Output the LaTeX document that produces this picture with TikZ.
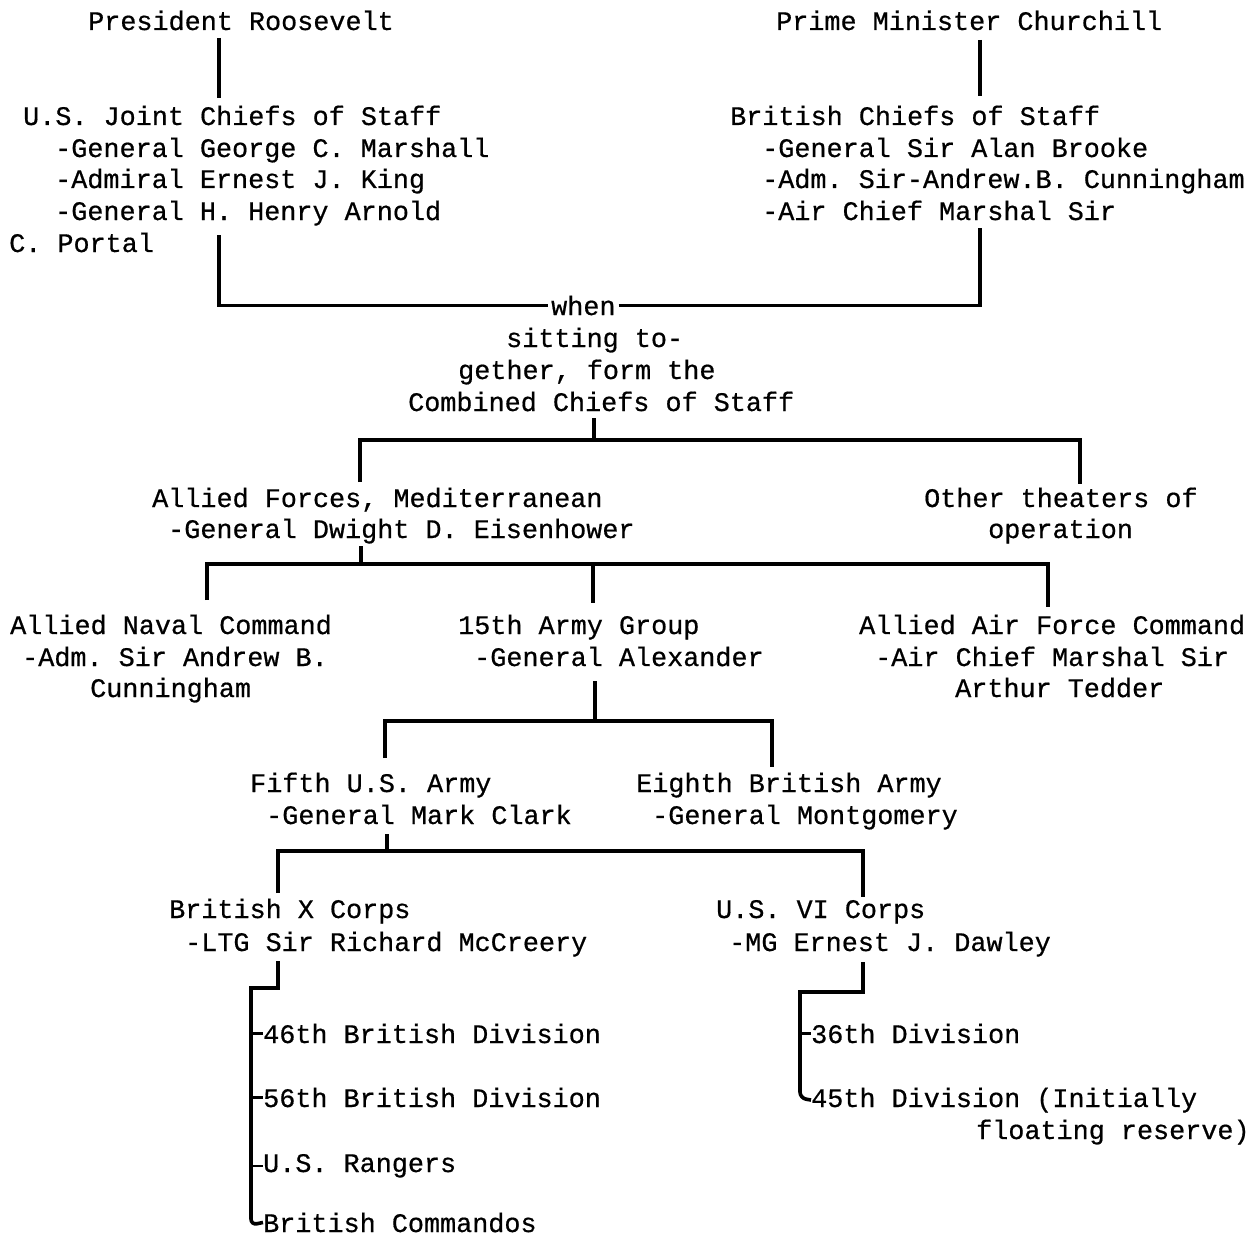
\documentclass[tikz,border=0pt]{standalone}
\usepackage{fontspec}
\setmonofont[FakeBold=0.6]{Liberation Mono}
\begin{document}
\begin{tikzpicture}[x=1pt,y=-1pt,
  txt/.style={anchor=base west,inner sep=0pt,font=\fontsize{26.8}{32}\selectfont\ttfamily},
  wire/.style={line width=3.6pt,line cap=butt,line join=miter},
  stub/.style={line width=2.6pt,line cap=butt}]
\useasboundingbox[fill=white] (0,0) rectangle (1251,1236);
% top
\node[txt] (pres) at (88,30) {President Roosevelt};
\node[txt] (pm) at (776,30) {Prime Minister Churchill};
\node[txt] (usj) at (23,125) {U.S. Joint Chiefs of Staff};
\node[txt] (usj1) at (55,157) {-General George C. Marshall};
\node[txt] (usj2) at (55,188) {-Admiral Ernest J. King};
\node[txt] (usj3) at (55,220) {-General H. Henry Arnold};
\node[txt] (portal) at (9,252) {C. Portal};
\node[txt] (bcs) at (730,125) {British Chiefs of Staff};
\node[txt] (bcs1) at (762,157) {-General Sir Alan Brooke};
\node[txt] (bcs2) at (762,188) {-Adm. Sir-Andrew.B. Cunningham};
\node[txt] (bcs3) at (762,220) {-Air Chief Marshal Sir};
% combined
\node[txt] (when) at (551,315) {when};
\node[txt] (sit) at (506,347) {sitting to-};
\node[txt] (geth) at (458,379) {gether, form the};
\node[txt] (ccs) at (408,411) {Combined Chiefs of Staff};
% theaters
\node[txt] (afm) at (152,507) {Allied Forces, Mediterranean};
\node[txt] (afm1) at (168,538) {-General Dwight D. Eisenhower};
\node[txt] (oth) at (924,507) {Other theaters of};
\node[txt] (oth1) at (988,538) {operation};
% commands
\node[txt] (anc) at (10,634) {Allied Naval Command};
\node[txt] (anc1) at (22,666) {-Adm. Sir Andrew B.};
\node[txt] (anc2) at (90,697) {Cunningham};
\node[txt] (ag) at (458,634) {15th Army Group};
\node[txt] (ag1) at (474,666) {-General Alexander};
\node[txt] (aaf) at (859,634) {Allied Air Force Command};
\node[txt] (aaf1) at (875,666) {-Air Chief Marshal Sir};
\node[txt] (aaf2) at (955,697) {Arthur Tedder};
% armies
\node[txt] (fifth) at (250,792) {Fifth U.S. Army};
\node[txt] (fifth1) at (266,824) {-General Mark Clark};
\node[txt] (eighth) at (636,792) {Eighth British Army};
\node[txt] (eighth1) at (652,824) {-General Montgomery};
% corps
\node[txt] (bx) at (169,918) {British X Corps};
\node[txt] (bx1) at (185,951) {-LTG Sir Richard McCreery};
\node[txt] (us6) at (716,918) {U.S. VI Corps};
\node[txt] (us61) at (729,951) {-MG Ernest J. Dawley};
% divisions
\node[txt] (d46) at (263,1043) {46th British Division};
\node[txt] (d56) at (263,1107) {56th British Division};
\node[txt] (rang) at (263,1172) {U.S. Rangers};
\node[txt] (comm) at (263,1232) {British Commandos};
\node[txt] (d36) at (811,1043) {36th Division};
\node[txt] (d45) at (811,1107) {45th Division (Initially};
\node[txt] (flo) at (976,1139) {floating reserve)};
% coordinates
\coordinate (rA) at (219,38);  \coordinate (rB) at (219,98);
\coordinate (cA) at (980,40);  \coordinate (cB) at (980,96);
\coordinate (uA) at (219,235); \coordinate (bA) at (980,228);
\coordinate (kA) at (594,418); \coordinate (kB) at (594,440);
\coordinate (kL) at (360,440); \coordinate (kLd) at (360,482);
\coordinate (kR) at (1080,440); \coordinate (kRd) at (1080,484);
\coordinate (eA) at (361,546); \coordinate (eB) at (361,564);
\coordinate (eL) at (207,564); \coordinate (eLd) at (207,600);
\coordinate (eM) at (593,564); \coordinate (eMd) at (593,603);
\coordinate (eR) at (1048,564); \coordinate (eRd) at (1048,607);
\coordinate (xA) at (595,681); \coordinate (xB) at (595,721);
\coordinate (xL) at (385,721); \coordinate (xLd) at (385,758);
\coordinate (xR) at (772,721); \coordinate (xRd) at (772,767);
\coordinate (lA) at (387,834); \coordinate (lB) at (387,851);
\coordinate (lL) at (278,851); \coordinate (lLd) at (278,893);
\coordinate (lR) at (863,851); \coordinate (lRd) at (863,897);
\coordinate (mA) at (278,961); \coordinate (mB) at (278,988);
\coordinate (mC) at (251,988); \coordinate (mD) at (251,1225);
\coordinate (mE) at (251,1210);
\coordinate (nA) at (863,962); \coordinate (nB) at (863,992);
\coordinate (nC) at (800,992); \coordinate (nD) at (800,1098);
\coordinate (nE) at (800,1083);
% connectors
\draw[wire] (rA) -- (rB);
\draw[wire] (cA) -- (cB);
\draw[wire] (uA) |- ([xshift=-3pt]when.west);
\draw[wire] ([xshift=3pt]when.east) -| (bA);
\draw[wire] (kA) -- (kB);
\draw[wire] (kLd) -- (kL) -- (kR) -- (kRd);
\draw[wire] (eA) -- (eB);
\draw[wire] (eLd) -- (eL) -- (eR) -- (eRd);
\draw[wire] (eM) -- (eMd);
\draw[wire] (xA) -- (xB);
\draw[wire] (xLd) -- (xL) -- (xR) -- (xRd);
\draw[wire] (lA) -- (lB);
\draw[wire] (lLd) -- (lL) -- (lR) -- (lRd);
\draw[wire] (mA) -- (mB) -- (mC) -- ([yshift=-2pt]mE);
\draw[wire,rounded corners=6pt] (mE) -- (mD) -- (comm.west);
\draw[stub] (mC |- d46.west) -- (d46.west);
\draw[stub] (mC |- d56.west) -- (d56.west);
\draw[stub] (mC |- rang.west) -- (rang.west);
\draw[wire] (nA) -- (nB) -- (nC) -- ([yshift=-2pt]nE);
\draw[wire,rounded corners=6pt] (nE) -- (nD) -- (d45.west);
\draw[stub] (nC |- d36.west) -- (d36.west);
\end{tikzpicture}
\end{document}
